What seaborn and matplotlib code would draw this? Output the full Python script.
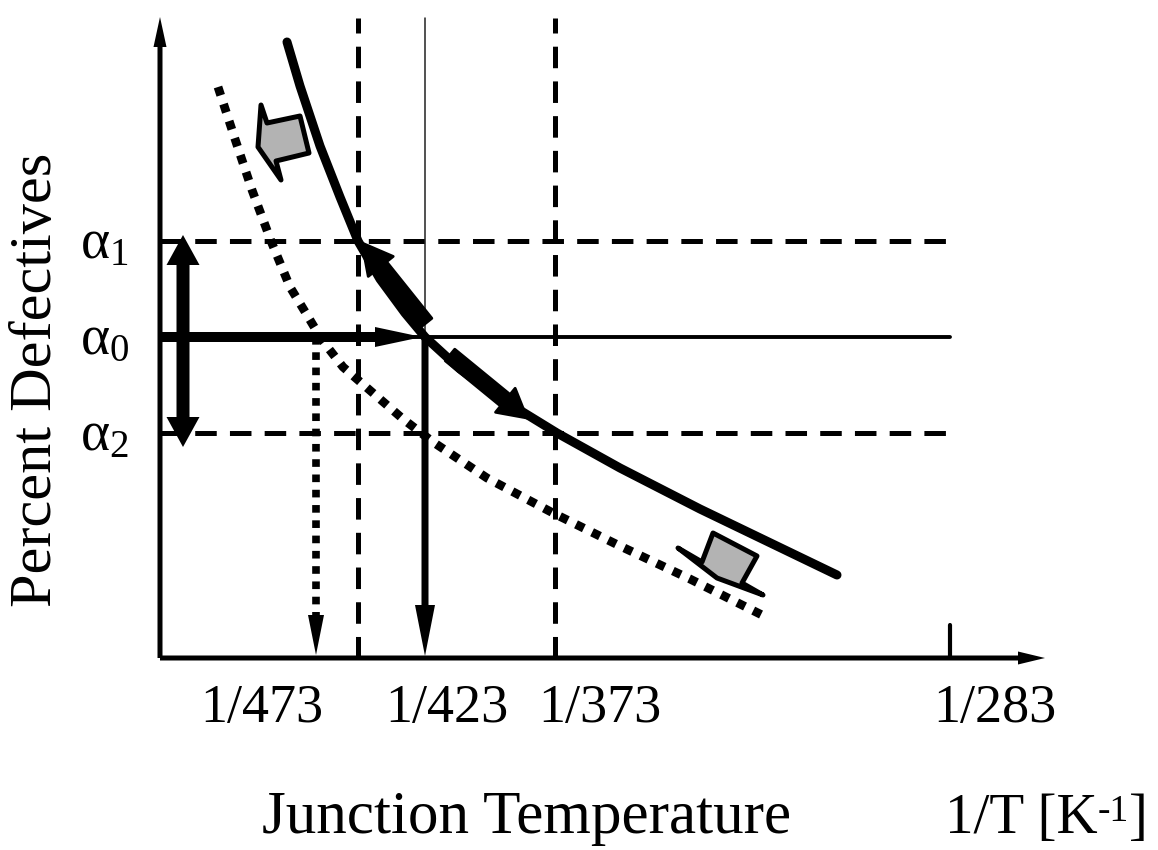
import matplotlib
matplotlib.use("Agg")
import matplotlib.pyplot as plt
import seaborn as sns
from matplotlib.patches import FancyArrow, Polygon

# ---------------- data (schematic units: origin = axes corner) ----------------
# solid curve: failure rate vs 1/T (original condition)
solid_x = [127, 140, 160, 180, 198, 220, 245, 265, 300, 340, 397, 460, 540, 677]
solid_y = [616, 572, 512, 461, 417, 379, 345, 321, 289, 260, 225, 190, 149, 83]
# dotted curve: shifted (improved) condition
dotted_x = [58, 75, 92, 111, 130, 147, 162, 183, 213, 243, 273, 327, 393, 460, 530, 602]
dotted_y = [571, 519, 468, 417, 371, 343, 318, 291, 265, 239, 216, 180, 145, 112, 79, 43]

alpha_levels = [417, 321, 225]            # alpha1, alpha0, alpha2
alpha_labels = [r"$\alpha_1$", r"$\alpha_0$", r"$\alpha_2$"]

temp_labels = ["1/473", "1/423", "1/373", "1/283"]
temp_label_pos = [102, 287, 440, 835]
x_dotted_arrow = 156      # new temperature read at alpha0 on dotted curve
x_dash_left = 198         # alpha1 crossing
x_main = 265              # 1/423
x_dash_right = 395        # alpha2 crossing
x_tick_283 = 790

x_end = 790
y_top = 640

# gray block arrows (shift of the curve)
gray_arrow_1 = [(98, 511), (101, 553), (107, 535), (140, 542), (149, 505), (116, 497), (121, 478)]
gray_arrow_2 = [(553, 125), (597, 102), (582, 75), (603, 63), (557, 80), (518, 110), (542, 96)]

# ---------------- style ----------------
sns.set_theme(style="white")
plt.rcParams.update({
    "font.family": ["Liberation Serif", "DejaVu Serif"],
    "mathtext.fontset": "custom",
    "mathtext.rm": "Liberation Serif",
    "mathtext.it": "Liberation Serif",
    "mathtext.bf": "Liberation Serif:bold",
    "lines.scale_dashes": False,
})

W, H = 1158, 850
fig = plt.figure(figsize=(W / 100, H / 100), dpi=100)
fig.patch.set_facecolor("white")
ax = fig.add_axes([160 / W, 192 / H, 998 / W, 658 / H])
ax.set_xlim(0, 998)
ax.set_ylim(0, 658)
ax.axis("off")

K = "black"
DASH = (0, (15.5, 9.5))


def arrow(x0, y0, x1, y1, width, hw, hl, z=6, lw=0):
    a = FancyArrow(x0, y0, x1 - x0, y1 - y0, width=width, head_width=hw,
                   head_length=hl, length_includes_head=True, color=K,
                   lw=lw, joinstyle="round", capstyle="round", zorder=z,
                   clip_on=False)
    ax.add_patch(a)


# dashed reference lines
for lvl, ls in zip(alpha_levels, [DASH, "-", DASH]):
    ax.plot([0, x_end], [lvl, lvl], color=K, lw=3.6 if ls != "-" else 2.8,
            linestyle=ls, zorder=2, clip_on=False)
for xv in [x_dash_left, x_dash_right]:
    ax.plot([xv, xv], [0, y_top], color=K, lw=3.6, linestyle=DASH, zorder=2,
            clip_on=False)
ax.plot([x_main, x_main], [alpha_levels[1], y_top], color="#222222", lw=1.1,
        zorder=2, clip_on=False)
ax.plot([x_tick_283, x_tick_283], [0, 33], color=K, lw=3.0, zorder=2,
        solid_capstyle="round", clip_on=False)

# curves
sns.lineplot(x=solid_x, y=solid_y, sort=False, estimator=None, color=K,
             lw=6.5, solid_capstyle="round", solid_joinstyle="round", ax=ax, zorder=4)
sns.lineplot(x=dotted_x, y=dotted_y, sort=False, estimator=None, color=K,
             lw=6.3, linestyle=(0, (6.3, 6.6)), dash_capstyle="butt", ax=ax, zorder=4)

# axes with arrow heads
arrow(0, 0, 885, 0, 5, 13, 27, z=7)
arrow(0, 0, 0, 641, 5, 13, 30, z=7)

# alpha0 -> curve -> temperature arrows
arrow(0, alpha_levels[1], 262, alpha_levels[1], 10, 20, 47)
arrow(x_main, alpha_levels[1], x_main, 2, 7, 20, 51)
ax.plot([x_dotted_arrow, x_dotted_arrow], [alpha_levels[1], 40], color=K, lw=5.5,
        linestyle=(0, (5.5, 5.5)), zorder=5, clip_on=False)
arrow(x_dotted_arrow, 45, x_dotted_arrow, 3, 1, 16, 40)

# double arrow alpha1 <-> alpha2
mid = (alpha_levels[0] + alpha_levels[2]) / 2
arrow(23, mid, 23, 423, 13, 33, 30)
arrow(23, mid, 23, 211, 13, 33, 30)

# thick arrows along the curve
arrow(266, 335, 202, 415, 15, 32, 30, lw=2)
arrow(290, 303, 367, 240, 15, 31, 28, lw=2)

# gray block arrows
for pts in [gray_arrow_1, gray_arrow_2]:
    ax.add_patch(Polygon(pts, closed=True, facecolor="#b3b3b3", edgecolor=K,
                         lw=3.6, joinstyle="round", zorder=6, clip_on=False))

# texts
for lvl, lab in zip(alpha_levels, alpha_labels):
    ax.text(-80, lvl - 17, lab, fontsize=40, ha="left", va="baseline", color=K)
for pos, lab in zip(temp_label_pos, temp_labels):
    ax.text(pos, -64, lab, fontsize=39, ha="center", va="baseline", color=K)
ax.text(-123, 278, "Percent Defectives", rotation=90, fontsize=43.5,
        ha="center", va="center", color=K)
ax.text(102, -175, "Junction Temperature", fontsize=44, ha="left",
        va="baseline", color=K)
t1 = ax.text(785, -175, "1/T [K", fontsize=41, ha="left", va="baseline", color=K)
t2 = ax.annotate("-1", xy=(1.0, 0.98), xycoords=t1, fontsize=27, ha="left",
                 va="top", color=K)
ax.annotate("]", xy=(1.0, 0.0), xycoords=(t2, t1), fontsize=41, ha="left",
            va="bottom", color=K)

fig.savefig("out.png", dpi=100, facecolor="white")
